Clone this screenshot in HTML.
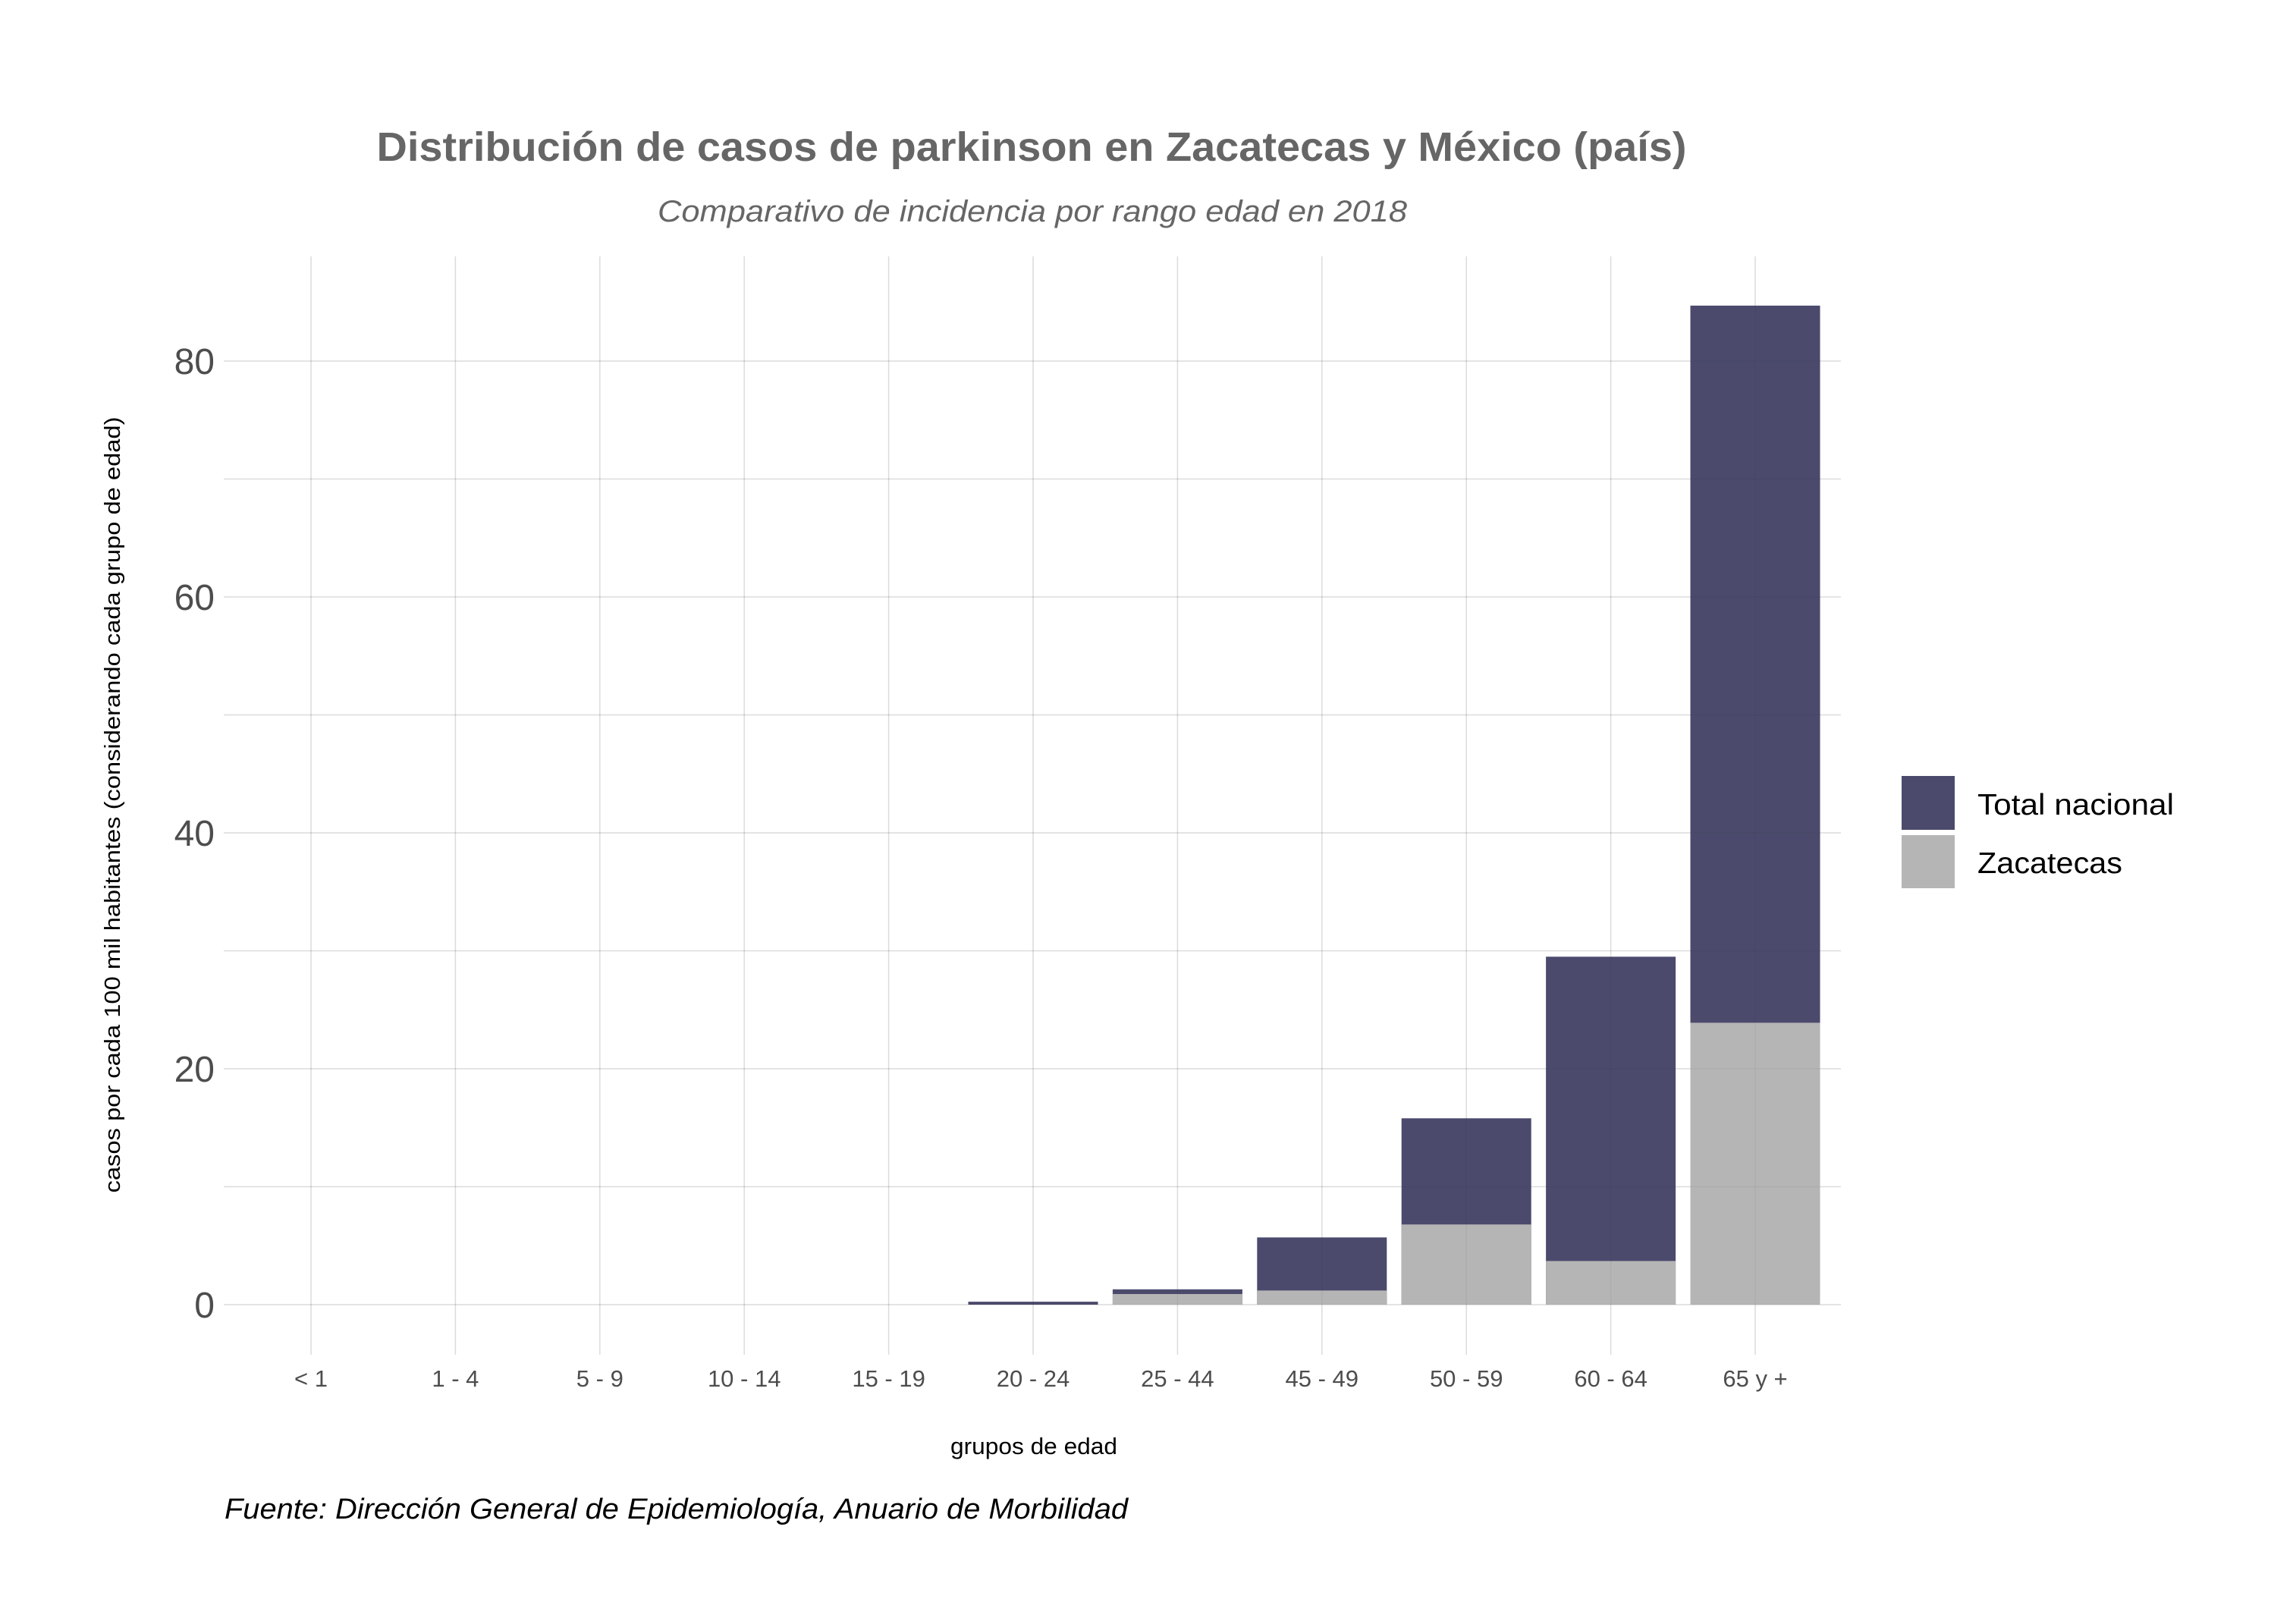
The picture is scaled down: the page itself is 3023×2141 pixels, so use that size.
<!DOCTYPE html>
<html><head><meta charset="utf-8"><style>
html,body{margin:0;padding:0;background:#fff}
svg{display:block;font-family:"Liberation Sans",Arial,sans-serif}
</style></head><body>
<svg id="chart" width="3023" height="2141" viewBox="0 0 3023 2141" xmlns="http://www.w3.org/2000/svg">
<rect width="3023" height="2141" fill="#fff"/>
<text x="1360" y="212" text-anchor="middle" font-size="54" font-weight="bold" fill="#666" textLength="1727" lengthAdjust="spacingAndGlyphs">Distribución de casos de parkinson en Zacatecas y México (país)</text>
<text x="1361" y="292" text-anchor="middle" font-size="40" font-style="italic" fill="#666" textLength="988" lengthAdjust="spacingAndGlyphs">Comparativo de incidencia por rango edad en 2018</text>
<g id="grid"></g>
<g id="bars"></g>
<g id="gridover"></g>
<g id="yticks"></g>
<g id="xticks"></g>
<text x="1363" y="1917" text-anchor="middle" font-size="31" fill="#000" textLength="220" lengthAdjust="spacingAndGlyphs">grupos de edad</text>
<text transform="translate(158,1061) rotate(-90)" text-anchor="middle" font-size="29" fill="#000" textLength="1023" lengthAdjust="spacingAndGlyphs">casos por cada 100 mil habitantes (considerando cada grupo de edad)</text>
<text x="296" y="2002" font-size="38" font-style="italic" fill="#000" textLength="1191" lengthAdjust="spacingAndGlyphs">Fuente: Dirección General de Epidemiología, Anuario de Morbilidad</text>
<g>
<rect x="2507" y="1023" width="70" height="71" fill="#4b4a6d"/>
<rect x="2507" y="1101" width="70" height="70" fill="#b5b5b5"/>
<text x="2607" y="1074" font-size="39" fill="#000" textLength="259" lengthAdjust="spacingAndGlyphs">Total nacional</text>
<text x="2607" y="1151" font-size="39" fill="#000" textLength="191" lengthAdjust="spacingAndGlyphs">Zacatecas</text>
</g>
</svg>
<script>
const categories = ["< 1","1 - 4","5 - 9","10 - 14","15 - 19","20 - 24","25 - 44","45 - 49","50 - 59","60 - 64","65 y +"];
const totalNacional = [0,0,0,0,0,0.25,1.3,5.7,15.8,29.5,84.7];
const zacatecas = [0,0,0,0,0,0,0.9,1.2,6.8,3.7,23.9];
const yTicks = [0,20,40,60,80];
const yMinor = [10,30,50,70];

const NS="http://www.w3.org/2000/svg";
const panel={left:295,right:2427,top:338,bottom:1786};
const y0=1720, pxPerUnit=15.55;
const x0=410, step=190.4, barW=171;
function yScale(v){return y0-v*pxPerUnit;}
function xScale(i){return x0+i*step;}
function mk(tag,attrs,parent){const e=document.createElementNS(NS,tag);for(const k in attrs)e.setAttribute(k,attrs[k]);parent.appendChild(e);return e;}
const grid=document.getElementById('grid'),bars=document.getElementById('bars'),over=document.getElementById('gridover');
const yt=document.getElementById('yticks'),xt=document.getElementById('xticks');

function gridLines(g,op){
  yTicks.concat(yMinor).forEach(v=>{
    const l=mk('line',{x1:panel.left,x2:panel.right,y1:yScale(v),y2:yScale(v),stroke:'#000','stroke-opacity':op,'stroke-width':1.5},g);
    
    
  });
  categories.forEach((c,i)=>{
    const l=mk('line',{x1:xScale(i),x2:xScale(i),y1:panel.top,y2:panel.bottom,stroke:'#000','stroke-opacity':op,'stroke-width':1.5},g);
    
    
  });
}
gridLines(grid,0.1);

categories.forEach((c,i)=>{
  const x=xScale(i)-barW/2;
  if(totalNacional[i]>0){
    const r=mk('rect',{x:x,y:yScale(totalNacional[i]),width:barW,height:y0-yScale(totalNacional[i]),fill:'#4b4a6d'},bars);
    
    
  }
  if(zacatecas[i]>0){
    const r=mk('rect',{x:x,y:yScale(zacatecas[i]),width:barW,height:y0-yScale(zacatecas[i]),fill:'#b5b5b5'},bars);
    
    
  }
});
gridLines(over,0.04);

yTicks.forEach(v=>{
  const t=mk('text',{x:283,y:yScale(v)+17,'text-anchor':'end','font-size':48,fill:'#4d4d4d'},yt);
  t.textContent=v;
  
  
});
categories.forEach((c,i)=>{
  const t=mk('text',{x:xScale(i),y:1828,'text-anchor':'middle','font-size':31,fill:'#4d4d4d'},xt);
  t.textContent=c;
  
  
});
</script>
</body></html>
